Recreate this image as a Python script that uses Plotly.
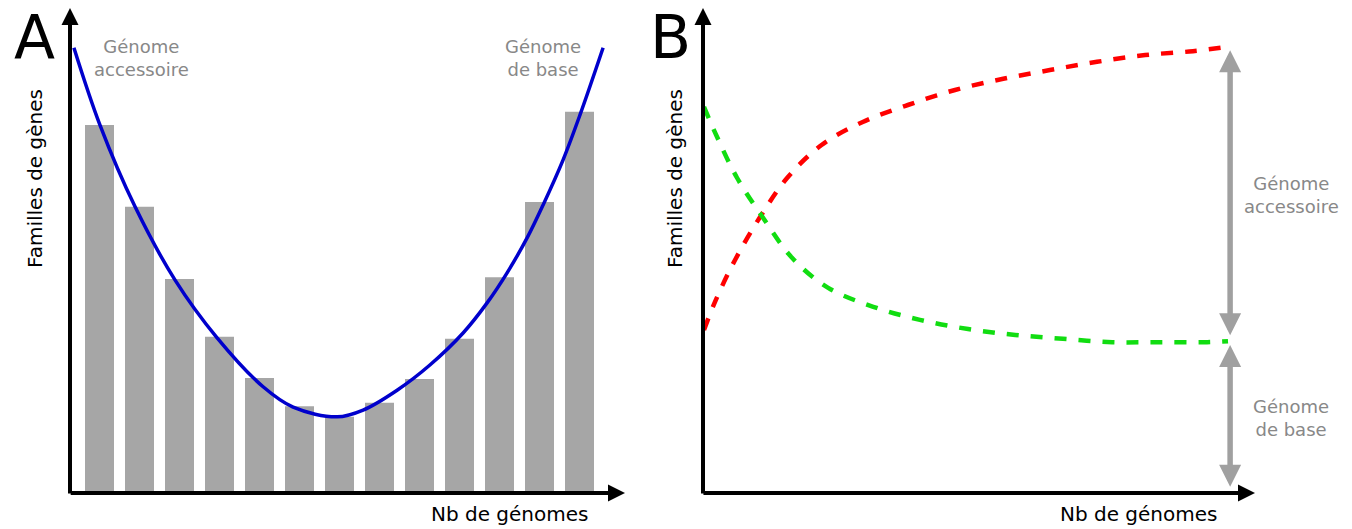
import plotly.graph_objects as go

W, H = 1352, 529

# ---------------- Panel A data ----------------
bar_x = list(range(1, 14))
bar_counts = [75.9, 59.0, 44.1, 32.2, 23.7, 17.9, 15.7, 18.6, 23.5, 31.8, 44.5, 60.0, 78.6]

u_curve_x = [0.36, 1.01, 1.89, 2.89, 3.94, 5.09, 5.84, 6.94, 7.59, 8.44,
             9.26, 10.09, 10.69, 11.19, 11.69, 12.09, 12.59, 13.01, 13.59]
u_curve_y = [91.8, 75.9, 59.0, 43.9, 32.0, 21.9, 17.7, 15.7, 17.1, 21.2,
             26.4, 33.0, 39.2, 45.4, 52.6, 59.4, 68.7, 77.9, 91.8]

# ---------------- Panel B data ----------------
pan_x = [0, 0.21, 0.59, 1.07, 1.59, 2.25, 3.03, 3.89, 4.79, 5.71, 6.6, 7.5, 8.42, 9.33, 10]
pan_y = [33.6, 39.4, 48.0, 56.9, 65.0, 71.8, 76.5, 80.0, 83.1, 85.4, 87.2, 88.9, 90.3, 91.1, 92.0]

core_x = [0, 0.25, 0.63, 1.13, 1.68, 2.37, 3.23, 4.12, 5.04, 5.94, 6.85, 7.79, 8.7, 9.6, 10]
core_y = [79.6, 73.4, 65.0, 56.7, 48.5, 42.3, 38.4, 35.7, 33.8, 32.6, 31.8, 31.1, 31.1, 31.1, 31.3]

# bounds of the two grey double arrows (panel B)
accessory_span = [91.3, 32.2]
core_span = [30.5, 1.0]

FONT = "DejaVu Sans"
GREY_TXT = "#888888"
GREY_ARROW = "#a0a0a0"


def px(x):
    return x / W


def py(y):
    return 1 - y / H


fig = go.Figure()

fig.add_trace(go.Bar(x=bar_x, y=bar_counts, marker=dict(color="#a6a6a6", line=dict(width=0)),
                     width=0.725, xaxis="x", yaxis="y", showlegend=False))
fig.add_trace(go.Scatter(x=u_curve_x, y=u_curve_y, mode="lines",
                         line=dict(color="#0000cc", width=3.5, shape="spline"),
                         xaxis="x", yaxis="y", showlegend=False))

fig.add_trace(go.Scatter(x=pan_x, y=pan_y, mode="lines",
                         line=dict(color="#ff0000", width=4.5, shape="spline", dash="12px,12px"),
                         xaxis="x2", yaxis="y2", showlegend=False))
fig.add_trace(go.Scatter(x=core_x, y=core_y, mode="lines",
                         line=dict(color="#11dd11", width=4.5, shape="spline", dash="12px,12px"),
                         xaxis="x2", yaxis="y2", showlegend=False))

XA = [0.2625, 14.1375]
XB = [-0.019, 10.515]
YR = [0, 100]

ax_common = dict(showgrid=False, zeroline=False, showticklabels=False, showline=False, ticks="", fixedrange=True)
fig.update_layout(
    width=W, height=H,
    margin=dict(l=0, r=0, t=0, b=0),
    paper_bgcolor="white", plot_bgcolor="white",
    font=dict(family=FONT),
    xaxis=dict(domain=[px(70), px(625)], range=XA, **ax_common),
    yaxis=dict(domain=[py(493), py(8)], range=YR, **ax_common),
    xaxis2=dict(domain=[px(703), px(1255)], range=XB, anchor="y2", **ax_common),
    yaxis2=dict(domain=[py(493), py(8)], range=YR, anchor="x2", **ax_common),
)

ann = []
# axes arrows
for xr, yr, xrange in (("x", "y", XA), ("x2", "y2", XB)):
    ann.append(dict(x=xrange[1], y=0, ax=xrange[0] - 0.02, ay=0, xref=xr, yref=yr, axref=xr, ayref=yr,
                    showarrow=True, arrowhead=2, arrowsize=0.85, arrowwidth=4, arrowcolor="black", text=""))
    ann.append(dict(x=xrange[0], y=100, ax=xrange[0], ay=-0.4, xref=xr, yref=yr, axref=xr, ayref=yr,
                    showarrow=True, arrowhead=2, arrowsize=0.85, arrowwidth=4, arrowcolor="black", text=""))

# grey double arrows panel B
arrow_x = 10.04
for top, bottom in (accessory_span, core_span):
    ann.append(dict(x=arrow_x, y=top, ax=arrow_x, ay=bottom, xref="x2", yref="y2", axref="x2", ayref="y2",
                    showarrow=True, arrowhead=2, startarrowhead=2, arrowside="end+start", arrowsize=0.8,
                    startarrowsize=0.8, arrowwidth=5.5, arrowcolor=GREY_ARROW, text=""))


def txt(text, x, y, size, color="black", angle=0):
    ann.append(dict(text=text, x=px(x), y=py(y), xref="paper", yref="paper", showarrow=False,
                    font=dict(family=FONT, size=size, color=color), textangle=angle,
                    xanchor="center", yanchor="middle"))


txt("A", 34, 37, 60)
txt("B", 670, 37, 60)
txt("Familles de gènes", 35, 179, 20, angle=-90)
txt("Familles de gènes", 675, 179, 20, angle=-90)
txt("Nb de génomes", 510, 514, 20)
txt("Nb de génomes", 1139, 514, 20)
txt("Génome<br>accessoire", 141, 58, 18, GREY_TXT)
txt("Génome<br>de base", 543, 58, 18, GREY_TXT)
txt("Génome<br>accessoire", 1291, 195, 18, GREY_TXT)
txt("Génome<br>de base", 1291, 418, 18, GREY_TXT)

fig.update_layout(annotations=ann)

fig.write_html("out.html", config={"displayModeBar": False},
               post_script="document.body.style.margin='0px';document.body.style.overflow='hidden';")
